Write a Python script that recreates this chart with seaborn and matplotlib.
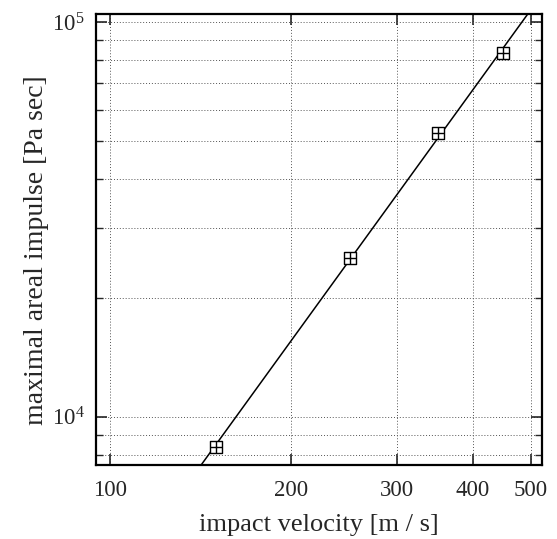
import numpy as np
import pandas as pd
import matplotlib
matplotlib.use("Agg")
import matplotlib.pyplot as plt
from matplotlib.ticker import FixedLocator, NullFormatter, LogLocator
import seaborn as sns

# measured impulse vs impact velocity
velocity = [150, 250, 350, 450]
impulse = [8400, 25200, 52500, 83400]

x_ticks = [100, 200, 300, 400, 500]
x_tick_labels = ["100", "200", "300", "400", "500"]

sns.set_style("ticks")
plt.rcParams["font.family"] = ["Liberation Serif", "DejaVu Serif"]
plt.rcParams["mathtext.fontset"] = "custom"
plt.rcParams["mathtext.rm"] = "Liberation Serif"
plt.rcParams["mathtext.it"] = "Liberation Serif:italic"

df = pd.DataFrame({"v": velocity, "I": impulse})

# power-law fit in log-log space
slope, intercept = np.polyfit(np.log10(velocity), np.log10(impulse), 1)
v_fit = np.logspace(np.log10(90), np.log10(560), 200)
fit = pd.DataFrame({"v": v_fit, "I": 10 ** (intercept + slope * np.log10(v_fit))})

fig = plt.figure(figsize=(5.57, 5.39), dpi=100)
ax = fig.add_axes([0.1724, 0.1373, 0.8, 0.8367])
ax.set_xscale("log")
ax.set_yscale("log")

sns.lineplot(data=fit, x="v", y="I", ax=ax, color="black", linewidth=1.1, zorder=3)
sns.scatterplot(data=df, x="v", y="I", ax=ax, marker="s", s=80,
                facecolors="white", edgecolors="black", linewidths=1.0, zorder=4)
sns.scatterplot(data=df, x="v", y="I", ax=ax, marker="+", s=80,
                color="black", linewidths=1.0, zorder=5)

ax.set_xlim(94.8, 521)
ax.set_ylim(7550, 104800)

ax.xaxis.set_major_locator(FixedLocator(x_ticks))
ax.set_xticklabels(x_tick_labels)
ax.xaxis.set_minor_locator(FixedLocator([]))
ax.xaxis.set_minor_formatter(NullFormatter())
ax.yaxis.set_major_locator(LogLocator(base=10, numticks=10))
ax.yaxis.set_minor_locator(LogLocator(base=10, subs=np.arange(2, 10), numticks=10))
ax.yaxis.set_minor_formatter(NullFormatter())

ax.grid(True, which="major", axis="both", color="#555555", linestyle=(0, (1, 2)), linewidth=0.7)
ax.grid(True, which="minor", axis="y", color="#555555", linestyle=(0, (1, 2)), linewidth=0.7)

ax.tick_params(which="major", direction="in", length=8, width=1.2, top=True, right=True,
               labelsize=16.5)
ax.tick_params(axis="x", which="major", pad=11)
ax.tick_params(axis="y", which="major", pad=8)
ax.tick_params(which="minor", direction="in", length=5, width=1.0, top=True, right=True)

for sp in ax.spines.values():
    sp.set_linewidth(1.6)
    sp.set_color("black")

ax.set_xlabel("impact velocity [m / s]", fontsize=19, labelpad=9)
ax.set_ylabel("maximal areal impulse [Pa sec]", fontsize=20)
ax.yaxis.set_label_coords(-0.105, 0.476)

fig.savefig("out.png", dpi=100)
